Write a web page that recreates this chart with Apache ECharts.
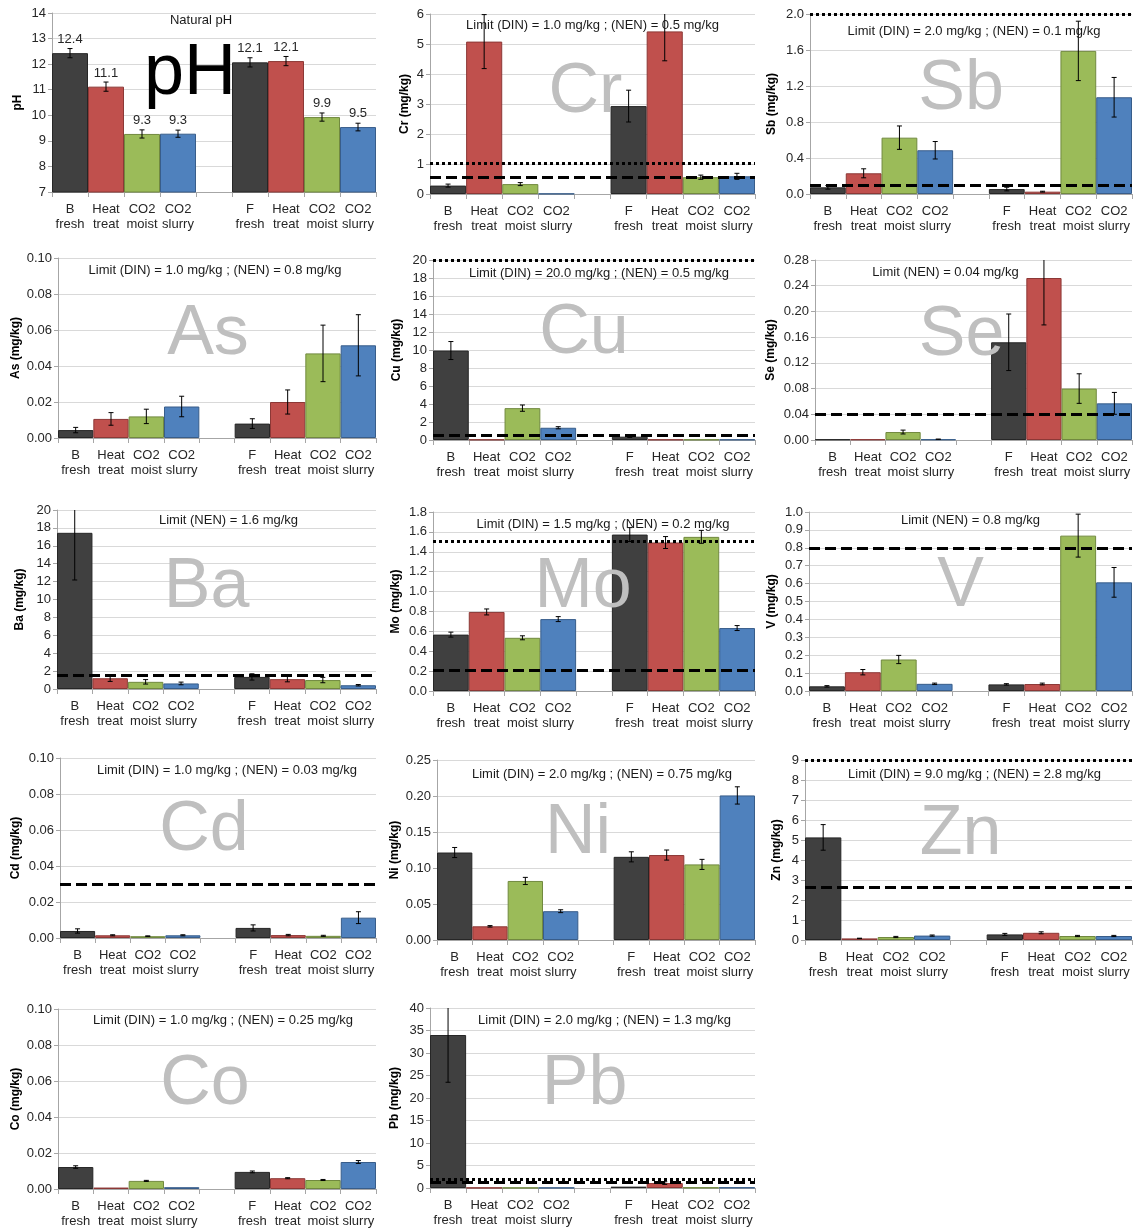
<!DOCTYPE html>
<html><head><meta charset="utf-8">
<script src="https://cdn.jsdelivr.net/npm/echarts@6/dist/echarts.min.js"></script>
<style>html,body{margin:0;padding:0;background:#fff}#c{width:1134px;height:1229px}</style>
</head><body><div id="c"></div>
<script>
// ---------- DATA ----------
const categories = ['B\nfresh','Heat\ntreat','CO2\nmoist','CO2\nslurry','','F\nfresh','Heat\ntreat','CO2\nmoist','CO2\nslurry'];
const elements = ['pH','Cr','Sb','As','Cu','Se','Ba','Mo','V','Cd','Ni','Zn','Co','Pb'];
const yAxisNames = ['pH','Cr (mg/kg)','Sb (mg/kg)','As (mg/kg)','Cu (mg/kg)','Se (mg/kg)','Ba (mg/kg)','Mo (mg/kg)','V (mg/kg)','Cd (mg/kg)','Ni (mg/kg)','Zn (mg/kg)','Co (mg/kg)','Pb (mg/kg)'];
const limitTexts = [
  'Natural pH',
  'Limit (DIN) = 1.0 mg/kg ; (NEN) = 0.5 mg/kg',
  'Limit (DIN) = 2.0 mg/kg ; (NEN) = 0.1 mg/kg',
  'Limit (DIN) = 1.0 mg/kg ; (NEN) = 0.8 mg/kg',
  'Limit (DIN) = 20.0 mg/kg ; (NEN) = 0.5 mg/kg',
  'Limit (NEN) = 0.04 mg/kg',
  'Limit (NEN) = 1.6 mg/kg',
  'Limit (DIN) = 1.5 mg/kg ; (NEN) = 0.2 mg/kg',
  'Limit (NEN) = 0.8 mg/kg',
  'Limit (DIN) = 1.0 mg/kg ; (NEN) = 0.03 mg/kg',
  'Limit (DIN) = 2.0 mg/kg ; (NEN) = 0.75 mg/kg',
  'Limit (DIN) = 9.0 mg/kg ; (NEN) = 2.8 mg/kg',
  'Limit (DIN) = 1.0 mg/kg ; (NEN) = 0.25 mg/kg',
  'Limit (DIN) = 2.0 mg/kg ; (NEN) = 1.3 mg/kg'
];

const pH_values = [12.43, 11.12, 9.27, 9.28, null, 12.07, 12.12, 9.93, 9.54];
const pH_errors = [0.18, 0.18, 0.16, 0.14, null, 0.18, 0.18, 0.16, 0.15];
const pH_labels = ['12.4','11.1','9.3','9.3','','12.1','12.1','9.9','9.5'];
const Cr_values = [0.28, 5.08, 0.33, 0.01, null, 2.93, 5.42, 0.56, 0.59];
const Cr_errors = [0.05, 0.9, 0.05, 0, null, 0.53, 0.98, 0.07, 0.1];
const Sb_values = [0.074, 0.23, 0.626, 0.486, null, 0.055, 0.026, 1.59, 1.075];
const Sb_errors = [0.02, 0.05, 0.13, 0.097, null, 0.02, 0.005, 0.33, 0.22];
const As_values = [0.0044, 0.0106, 0.012, 0.0175, null, 0.008, 0.020, 0.047, 0.0515];
const As_errors = [0.0015, 0.0035, 0.004, 0.0057, null, 0.0027, 0.0067, 0.0157, 0.017];
const Cu_values = [9.94, 0.05, 3.54, 1.36, null, 0.37, 0.05, 0.05, 0.05];
const Cu_errors = [1.0, 0, 0.35, 0.12, null, 0.08, 0, 0, 0];
const Se_values = [0.001, 0.001, 0.0124, 0.001, null, 0.152, 0.252, 0.080, 0.057];
const Se_errors = [0, 0, 0.003, 0.0005, null, 0.044, 0.073, 0.023, 0.017];
const Ba_values = [17.45, 1.2, 0.8, 0.62, null, 1.35, 1.1, 1.0, 0.42];
const Ba_errors = [5.27, 0.35, 0.25, 0.15, null, 0.35, 0.3, 0.3, 0.08];
const Mo_values = [0.567, 0.795, 0.535, 0.723, null, 1.573, 1.493, 1.55, 0.633];
const Mo_errors = [0.025, 0.03, 0.02, 0.025, null, 0.07, 0.06, 0.065, 0.025];
const V_values = [0.026, 0.105, 0.176, 0.04, null, 0.037, 0.039, 0.868, 0.607];
const V_errors = [0.004, 0.015, 0.023, 0.004, null, 0.004, 0.005, 0.12, 0.083];
const Cd_values = [0.0039, 0.0015, 0.001, 0.0015, null, 0.0056, 0.0016, 0.0012, 0.0113];
const Cd_errors = [0.0012, 0.0003, 0.0002, 0.0003, null, 0.0017, 0.0004, 0.0003, 0.0033];
const Ni_values = [0.1215, 0.019, 0.082, 0.040, null, 0.1155, 0.118, 0.105, 0.2008];
const Ni_errors = [0.007, 0.001, 0.005, 0.002, null, 0.007, 0.007, 0.007, 0.012];
const Zn_values = [5.13, 0.08, 0.15, 0.22, null, 0.28, 0.36, 0.2, 0.2];
const Zn_errors = [0.64, 0.01, 0.03, 0.03, null, 0.05, 0.05, 0.03, 0.03];
const Co_values = [0.0122, 0.0008, 0.0045, 0.001, null, 0.0095, 0.006, 0.005, 0.015];
const Co_errors = [0.0007, 0, 0.0003, 0, null, 0.0005, 0.0003, 0.0003, 0.0008];
const Pb_values = [34.0, 0.05, 0.05, 0.05, null, 0.3, 1.1, 0.1, 0.1];
const Pb_errors = [10.5, 0, 0, 0, null, 0, 0.3, 0, 0];

// axis ranges and tick label decimals
const yMins      = [7, 0, 0, 0, 0, 0, 0, 0, 0, 0, 0, 0, 0, 0];
const yMaxs      = [14, 6, 2.0, 0.10, 20, 0.28, 20, 1.8, 1.0, 0.10, 0.25, 9, 0.10, 40];
const yIntervals = [1, 1, 0.4, 0.02, 2, 0.04, 2, 0.2, 0.1, 0.02, 0.05, 1, 0.02, 5];
const yDecimals  = [0, 0, 1, 2, 0, 2, 0, 1, 1, 2, 2, 0, 2, 0];
// limit lines as drawn (DIN dotted, NEN dashed); null = not drawn in range
const dinLines = [null, 1.02, 2.0, null, 20, null, null, 1.515, null, null, null, 9.0, null, 2.0];
const nenLines = [null, 0.56, 0.1, null, 0.55, 0.04, 1.55, 0.21, 0.8, 0.0297, null, 2.66, null, 1.3];

const valueSets = [pH_values, Cr_values, Sb_values, As_values, Cu_values, Se_values, Ba_values, Mo_values, V_values, Cd_values, Ni_values, Zn_values, Co_values, Pb_values];
const errorSets = [pH_errors, Cr_errors, Sb_errors, As_errors, Cu_errors, Se_errors, Ba_errors, Mo_errors, V_errors, Cd_errors, Ni_errors, Zn_errors, Co_errors, Pb_errors];

// ---------- LAYOUT / STYLE ----------
const layout = [
  {l:52,  t:13,   w:324, h:179, ng:28, tdx:-13, tdy:7,  wdx:-24, wdy:61},
  {l:430, t:14,   w:325, h:180, ng:19, tdx:0,   tdy:11, wdx:-7,  wdy:79},
  {l:810, t:14,   w:322, h:180, ng:32, tdx:3,   tdy:17, wdx:-10, wdy:76},
  {l:58,  t:258,  w:318, h:180, ng:36, tdx:-2,  tdy:12, wdx:-9,  wdy:77},
  {l:433, t:260,  w:322, h:180, ng:30, tdx:5,   tdy:13, wdx:-10, wdy:74},
  {l:815, t:260,  w:317, h:180, ng:38, tdx:-28, tdy:12, wdx:-12, wdy:76},
  {l:57,  t:510,  w:319, h:179, ng:31, tdx:12,  tdy:10, wdx:-10, wdy:78},
  {l:433, t:512,  w:322, h:179, ng:31, tdx:9,   tdy:12, wdx:-11, wdy:76},
  {l:809, t:512,  w:323, h:179, ng:31, tdx:0,   tdy:8,  wdx:-10, wdy:75},
  {l:60,  t:758,  w:316, h:180, ng:38, tdx:9,   tdy:12, wdx:-14, wdy:73},
  {l:437, t:760,  w:318, h:180, ng:36, tdx:6,   tdy:14, wdx:-18, wdy:74},
  {l:805, t:760,  w:327, h:180, ng:22, tdx:6,   tdy:14, wdx:-8,  wdy:75},
  {l:58,  t:1009, w:318, h:180, ng:36, tdx:6,   tdy:11, wdx:-12, wdy:76},
  {l:430, t:1008, w:325, h:180, ng:29, tdx:12,  tdy:12, wdx:-8,  wdy:77}
];
const FONT = "'Liberation Sans', Arial, sans-serif";
const fills   = ['#404040','#C0504D','#9BBB59','#4F81BD', null, '#404040','#C0504D','#9BBB59','#4F81BD'];
const borders = ['#262626','#8C3836','#71893F','#385D8A', null, '#262626','#8C3836','#71893F','#385D8A'];

const grids = [], xAxes = [], yAxes = [], series = [], graphics = [];

elements.forEach((el, i) => {
  const L = layout[i];
  grids.push({left: L.l, top: L.t, width: L.w, height: L.h, outerBoundsMode: 'none'});
  xAxes.push({
    type: 'category', gridIndex: i, data: categories,
    axisLine: {show: true, lineStyle: {color: '#a6a6a6', width: 1}},
    axisTick: {show: true, length: 5, interval: 0, lineStyle: {color: '#a6a6a6'}},
    axisLabel: {interval: 0, color: '#262626', fontSize: 13, lineHeight: 15, margin: 10, fontFamily: FONT},
    splitLine: {show: false}
  });
  const dec = yDecimals[i];
  yAxes.push({
    type: 'value', gridIndex: i, min: yMins[i], max: yMaxs[i], interval: yIntervals[i],
    name: yAxisNames[i], nameLocation: 'middle', nameGap: L.ng, nameRotate: 90,
    nameTextStyle: {fontWeight: 'bold', fontSize: 12, color: '#000', fontFamily: FONT},
    axisLine: {show: true, lineStyle: {color: '#a6a6a6', width: 1}},
    axisTick: {show: true, length: 4, lineStyle: {color: '#a6a6a6'}},
    axisLabel: {color: '#262626', fontSize: 13, margin: 6, fontFamily: FONT,
      formatter: v => v.toFixed(dec)},
    splitLine: {show: true, lineStyle: {color: '#d9d9d9', width: 1}}
  });

  const vals = valueSets[i], errs = errorSets[i];
  const markData = [];
  if (dinLines[i] != null) markData.push({yAxis: dinLines[i], lineStyle: {type: [3, 3], width: 3, color: '#000', cap: 'butt'}});
  if (nenLines[i] != null) markData.push({yAxis: nenLines[i], lineStyle: {type: [11, 5], width: 3, color: '#000', cap: 'butt'}});

  series.push({
    type: 'bar', xAxisIndex: i, yAxisIndex: i, barCategoryGap: '0%', barGap: '0%',
    animation: false,
    data: vals.map((v, j) => v == null ? '-' : {
      value: v,
      itemStyle: {color: fills[j], borderColor: borders[j], borderWidth: 1}
    }),
    label: el === 'pH' ? {
      show: true, position: 'top', distance: 7, color: '#262626', fontSize: 13, fontFamily: FONT,
      formatter: p => pH_labels[p.dataIndex]
    } : {show: false},
    markLine: markData.length ? {
      silent: true, symbol: 'none', animation: false, label: {show: false},
      data: markData
    } : undefined,
    z: 2
  });

  const errData = [];
  vals.forEach((v, j) => {
    if (v != null && errs[j] > 0) errData.push([j, v - errs[j], v + errs[j]]);
  });
  series.push({
    type: 'custom', xAxisIndex: i, yAxisIndex: i, clip: true, animation: false, z: 3,
    encode: {x: 0, y: [1, 2]},
    data: errData,
    renderItem: (params, api) => {
      const x = api.value(0);
      const lo = api.coord([x, api.value(1)]);
      const hi = api.coord([x, api.value(2)]);
      const c = 2.5;
      const st = {stroke: '#000', lineWidth: 1};
      return {type: 'group', children: [
        {type: 'line', shape: {x1: lo[0], y1: lo[1], x2: hi[0], y2: hi[1]}, style: st},
        {type: 'line', shape: {x1: lo[0] - c, y1: lo[1], x2: lo[0] + c, y2: lo[1]}, style: st},
        {type: 'line', shape: {x1: hi[0] - c, y1: hi[1], x2: hi[0] + c, y2: hi[1]}, style: st}
      ]};
    }
  });

  // watermark symbol
  graphics.push({
    type: 'text', x: L.l + L.w / 2 + L.wdx, y: L.t + L.wdy, z: 100, silent: true,
    style: {text: el, font: (el === 'pH' ? '72px ' : '70px ') + FONT,
      fill: el === 'pH' ? '#000' : '#bfbfbf', textAlign: 'center', textVerticalAlign: 'middle'}
  });
  // limit text
  graphics.push({
    type: 'text', x: L.l + L.w / 2 + L.tdx, y: L.t + L.tdy, z: 101, silent: true,
    style: {text: limitTexts[i], font: '13px ' + FONT, fill: '#1a1a1a',
      textAlign: 'center', textVerticalAlign: 'middle'}
  });
});

const chart = echarts.init(document.getElementById('c'), null, {renderer: 'canvas'});
chart.setOption({
  animation: false,
  backgroundColor: '#fff',
  grid: grids, xAxis: xAxes, yAxis: yAxes, series: series, graphic: graphics
});
</script></body></html>
